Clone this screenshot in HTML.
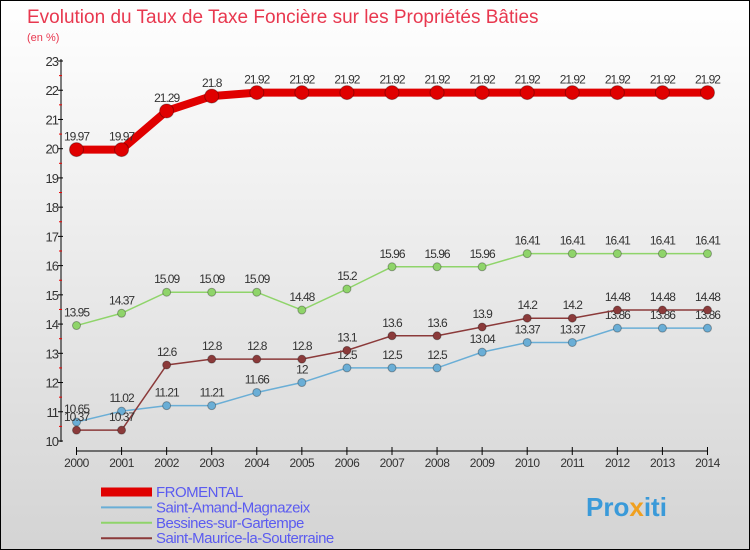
<!DOCTYPE html>
<html><head><meta charset="utf-8"><style>
body{margin:0}
#c{width:750px;height:550px;position:relative;overflow:hidden;background:linear-gradient(#ffffff,#d4d4d4);font-family:"Liberation Sans",sans-serif;box-sizing:border-box;border:1px solid #000}
</style></head><body>
<div id="c">
<svg width="750" height="550" style="position:absolute;left:0;top:0" id="s">
<text x="26" y="22" font-size="19" fill="#e8384f">Evolution du Taux de Taxe Foncière sur les Propriétés Bâties</text>
<text x="26" y="40" font-size="11" fill="#e8384f">(en %)</text>
<text x="585" y="515" font-size="26" font-weight="bold" fill="#3a9ad9">Pro<tspan fill="#f0a020">x</tspan>iti</text>
</svg>
</div>
<script>
const years=["2000","2001","2002","2003","2004","2005","2006","2007","2008","2009","2010","2011","2012","2013","2014"];
const yTicks=[10,11,12,13,14,15,16,17,18,19,20,21,22,23];
const fromental=[19.97,19.97,21.29,21.8,21.92,21.92,21.92,21.92,21.92,21.92,21.92,21.92,21.92,21.92,21.92];
const saintAmand=[10.65,11.02,11.21,11.21,11.66,12,12.5,12.5,12.5,13.04,13.37,13.37,13.86,13.86,13.86];
const bessines=[13.95,14.37,15.09,15.09,15.09,14.48,15.2,15.96,15.96,15.96,16.41,16.41,16.41,16.41,16.41];
const saintMaurice=[10.37,10.37,12.6,12.8,12.8,12.8,13.1,13.6,13.6,13.9,14.2,14.2,14.48,14.48,14.48];
const names=["FROMENTAL","Saint-Amand-Magnazeix","Bessines-sur-Gartempe","Saint-Maurice-la-Souterraine"];
const s=document.getElementById('s');const NS="http://www.w3.org/2000/svg";
const X=i=>75.5+i*45.07;const Y=v=>440-(v-10)*(380/13);
function el(t,a,p){const e=document.createElementNS(NS,t);for(const k in a)e.setAttribute(k,a[k]);(p||s).appendChild(e);return e;}
let ax=el('line',{x1:60,y1:58,x2:60,y2:441,stroke:'#000'});


yTicks.forEach(v=>{el('line',{x1:57,x2:62,y1:Y(v),y2:Y(v),stroke:'#000'});
if(v<23)el('line',{x1:58,x2:61,y1:Y(v+0.5),y2:Y(v+0.5),stroke:'#e00'});
const t=el('text',{x:57,y:Y(v)+5,'font-size':13,fill:'#333','text-anchor':'end','letter-spacing':'-1'});t.textContent=v;

});
let xa=el('line',{x1:75,y1:450,x2:706,y2:450,stroke:'#000'});


years.forEach((y,i)=>{el('line',{x1:X(i),x2:X(i),y1:446,y2:454,stroke:'#000'});
const t=el('text',{x:X(i),y:466,'font-size':12,fill:'#333','text-anchor':'middle','letter-spacing':'-0.5'});t.textContent=y;

});
function series(d,col,w,r,name){const p=el('polyline',{points:d.map((v,i)=>X(i)+','+Y(v)).join(' '),fill:'none',stroke:col,'stroke-width':w});


d.forEach((v,i)=>{const c=el('circle',{cx:X(i),cy:Y(v),r:r,fill:col,stroke:'rgba(0,0,0,0.3)'});


const t=el('text',{x:X(i),y:Y(v)-9,'font-size':12,fill:'#333','text-anchor':'middle','letter-spacing':'-1'});t.textContent=v;

});}
series(saintAmand,'#6aaed6',1.5,4,'saint-amand');
series(bessines,'#8fd46a',1.5,4,'bessines');
series(saintMaurice,'#8b3a3a',1.5,4,'saint-maurice');
series(fromental,'#e00000',8,7,'fromental');
const lc=['#e00000','#6aaed6','#8fd46a','#8b3a3a'],lw=[9,2,2,2];
names.forEach((n,i)=>{const y=491+i*15.4;
const l=el('line',{x1:100,x2:151,y1:y,y2:y,stroke:lc[i],'stroke-width':lw[i]});


const t=el('text',{x:155,y:y+5,'font-size':15,fill:'#5b5bf0','letter-spacing':'-0.5'});t.textContent=n;

});
</script>
</body></html>
